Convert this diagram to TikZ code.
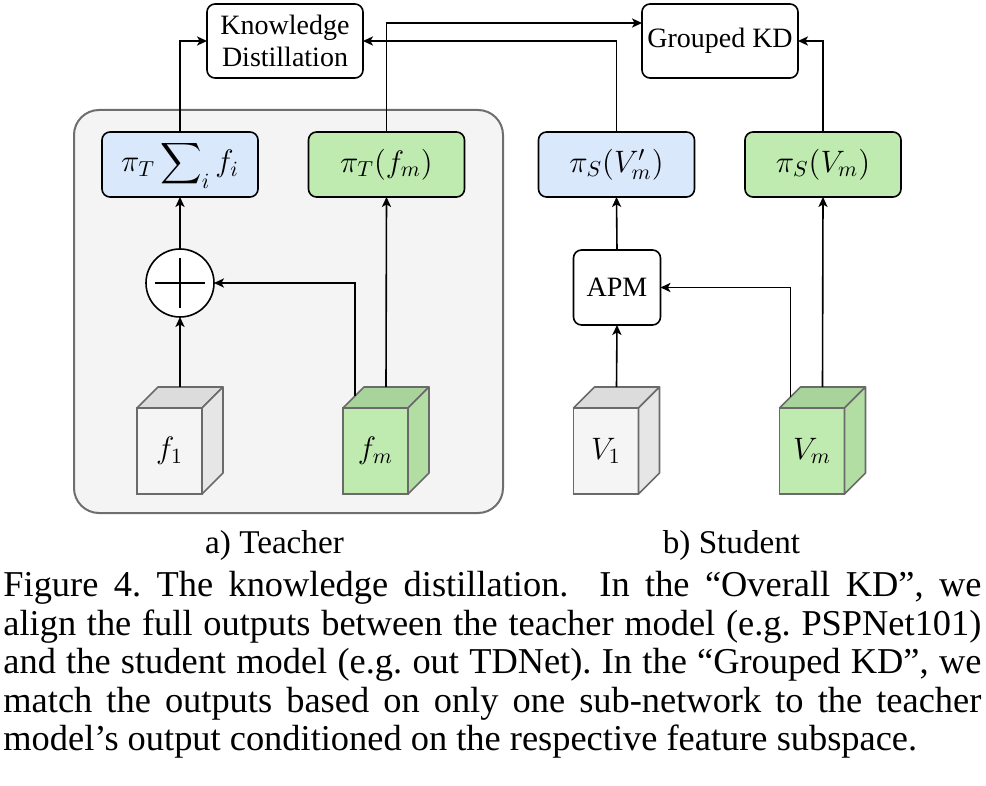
\RequirePackage{fix-cm}
\documentclass[tikz,border=0pt]{standalone}
\usepackage{exscale}
\usepackage{fontspec}
\setmainfont{Liberation Serif}
\usetikzlibrary{calc,arrows.meta}
\definecolor{bluefill}{HTML}{DAE8FC}
\definecolor{greenfill}{HTML}{BFEBB0}
\definecolor{greentop}{HTML}{A8D49C}
\definecolor{greenside}{HTML}{B2DEA4}
\definecolor{grayfront}{HTML}{F5F5F5}
\definecolor{graytop}{HTML}{DCDCDC}
\definecolor{grayside}{HTML}{E6E6E6}
\definecolor{cubeedge}{HTML}{6A6A6A}
\definecolor{teacherbg}{HTML}{F4F4F4}
\definecolor{teacherline}{HTML}{6E6E6E}
\tikzset{
  box/.style={draw=black, line width=0.8pt, rounded corners=4pt, outer sep=0pt, inner sep=0pt, align=center},
  kdbox/.style={box, fill=white, minimum width=78pt, minimum height=37pt, font=\fontsize{14}{16}\selectfont},
  projbox/.style={box, minimum width=78pt, minimum height=32.5pt, font=\fontsize{15.5}{18}\selectfont},
  apmbox/.style={box, fill=white, minimum width=43.5pt, minimum height=37.5pt, font=\fontsize{14}{16}\selectfont},
  cubefront/.style={draw=cubeedge, line width=0.8pt, outer sep=0pt, inner sep=0pt, minimum width=32.5pt, minimum height=43pt, font=\fontsize{15.5}{18}\selectfont},
  cubeface/.style={draw=cubeedge, line width=0.8pt, line join=round},
  arr/.style={draw=black, line width=0.8pt, -{Stealth[length=5pt,width=4.6pt,inset=1.3pt]}},
  lbl/.style={font=\fontsize{16.6}{19}\selectfont, inner sep=0pt, anchor=base},
}
\newcommand{\cubefaces}[3]{%
  \draw[cubeface, fill=#2] (#1.north west) -- ($(#1.north west)+(21,-21)$) -- ($(#1.north east)+(21,-21)$) -- (#1.north east) -- cycle;
  \draw[cubeface, fill=#3] (#1.north east) -- ($(#1.north east)+(21,-21)$) -- ($(#1.south east)+(21,-21)$) -- (#1.south east) -- cycle;
}
\begin{document}
\begin{tikzpicture}[x=0.5pt, y=-0.5pt]
\useasboundingbox (0,0) rectangle (986,786);

% teacher background
\draw[fill=teacherbg, draw=teacherline, line width=1pt, rounded corners=12.5pt] (74,110) rectangle (503,513);

% top boxes
\node[kdbox] (kd) at (285,41) {Knowledge\\Distillation};
\node[kdbox] (gkd) at (720,41) {Grouped KD};

% projection boxes
\node[projbox, fill=bluefill] (pts) at (180,164.5) {$\pi_T \displaystyle\sum\nolimits_i f_i$};
\node[projbox, fill=greenfill] (ptf) at (386.5,164.5) {$\pi_T(f_m)$};
\node[projbox, fill=bluefill] (psv1) at (616.5,164.5) {$\pi_S(V'_m)$};
\node[projbox, fill=greenfill] (psvm) at (823,164.5) {$\pi_S(V_m)$};

% plus
\node[circle, draw=black, fill=white, line width=0.8pt, minimum size=34pt, inner sep=0pt, outer sep=0pt] (plus) at (180,283) {};
\draw[line width=1pt] ($(plus.center)+(-25,0)$) -- ($(plus.center)+(25,0)$);
\draw[line width=1pt] ($(plus.center)+(0,-25)$) -- ($(plus.center)+(0,25)$);

% APM
\node[apmbox] (apm) at (617,287.5) {APM};

% cubes
\node[cubefront, fill=grayfront] (f1) at (169.5,451) {$f_1$};
\cubefaces{f1}{graytop}{grayside}
\node[cubefront, fill=greenfill] (fm) at (375.5,451) {$f_m$};
\cubefaces{fm}{greentop}{greenside}
\node[cubefront, fill=grayfront] (v1) at (606,451) {$V_1$};
\cubefaces{v1}{graytop}{grayside}
\node[cubefront, fill=greenfill] (vm) at (812,451) {$V_m$};
\cubefaces{vm}{greentop}{greenside}

% connector start points on cubes
\coordinate (f1top) at ($(f1.north)+(10.5,-21)$);
\coordinate (fmtop) at ($(fm.north)+(10.5,-21)$);
\coordinate (fmleft) at ($(fm.north west)+(12,-12)$);
\coordinate (v1top) at ($(v1.north)+(10.5,-21)$);
\coordinate (vmtop) at ($(vm.north)+(10.5,-21)$);
\coordinate (vmleft) at ($(vm.north west)+(11,-11)$);
\coordinate (gkdin) at ($(gkd.west)+(0,-18)$);

% connectors
\draw[arr] (f1top) -- (plus.south);
\draw[arr] (fmleft) |- (plus.east);
\draw[arr] (fmtop) -- (ptf.south);
\draw[arr] (plus.north) -- (pts.south);
\draw[arr] (v1top) -- (apm.south);
\draw[arr] (vmleft) |- (apm.east);
\draw[arr] (apm.north) -- (psv1.south);
\draw[arr] (vmtop) -- (psvm.south);
\draw[arr] (pts.north) |- (kd.west);
\draw[arr] (ptf.north) |- (gkdin);
\draw[arr] (psv1.north) |- (kd.east);
\draw[arr] (psvm.north) |- (gkd.east);

% sub-captions
\node[lbl] (ta) at (274.5,553) {a) Teacher};
\node[lbl] (sb) at (731.5,553) {b) Student};

% figure caption
\node[anchor=north west, inner sep=0pt, text width=489pt, align=justify,
      font=\fontsize{18.2}{19.25}\selectfont] (cap) at (3,571)
{\frenchspacing Figure 4. The knowledge distillation.\ \ In the “Overall KD”, we\linebreak
align the full outputs between the teacher model (e.g. PSPNet101)\linebreak
and the student model (e.g. out TDNet). In the “Grouped KD”, we\linebreak
match the outputs based on only one sub-network to the teacher\linebreak
model’s output conditioned on the respective feature subspace.};
\end{tikzpicture}
\end{document}
